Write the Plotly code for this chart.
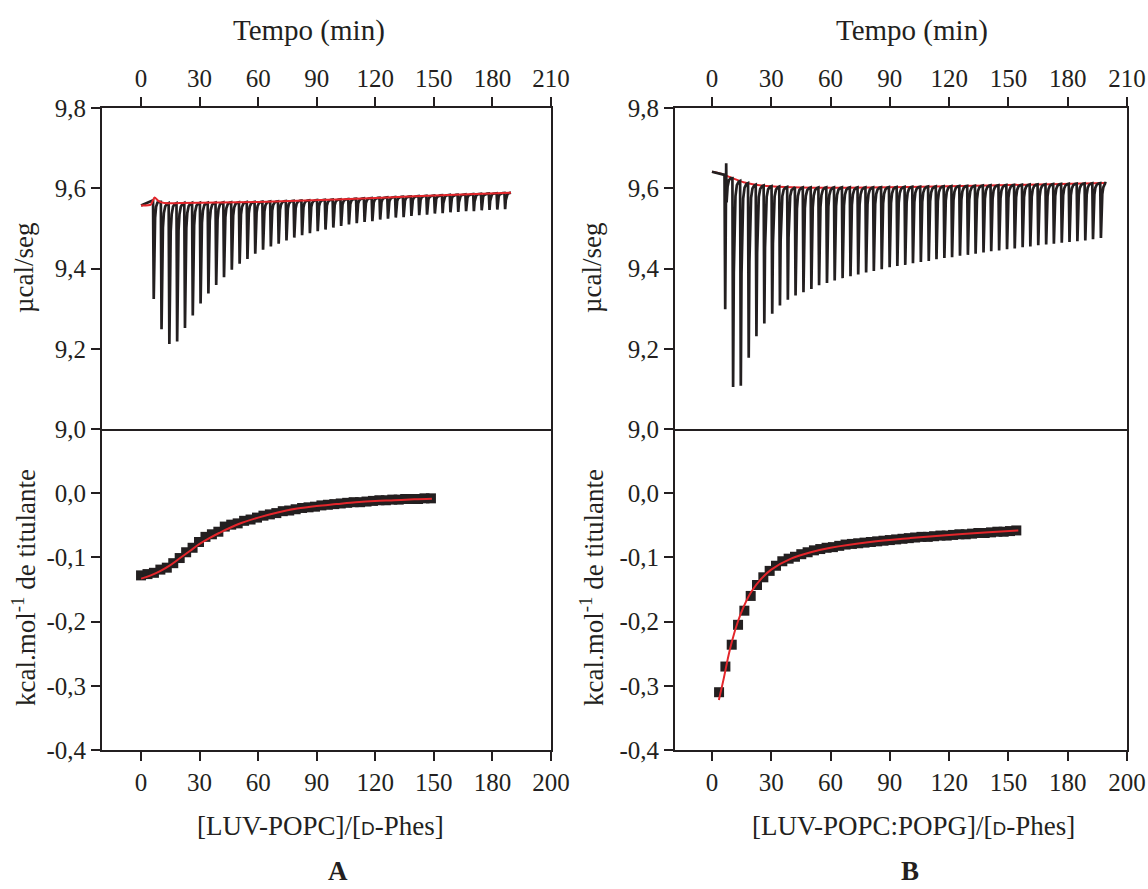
import numpy as np
import plotly.graph_objects as go

# ---------------- DATA ----------------
# Panel A - raw thermogram (Tempo, min)
inj_time_A = [6.3, 10.3, 14.3, 18.3, 22.3, 26.3, 30.3, 34.3, 38.3, 42.3, 46.3, 50.3,
              54.3, 58.3, 62.3, 66.3, 70.3, 74.3, 78.3, 82.3, 86.3, 90.3, 94.3, 98.3,
              102.3, 106.3, 110.3, 114.3, 118.3, 122.3, 126.3, 130.3, 134.3, 138.3,
              142.3, 146.3, 150.3, 154.3, 158.3, 162.3, 166.3, 170.3, 174.3, 178.3,
              182.3, 186.3]
peak_min_A = [9.322, 9.249, 9.212, 9.218, 9.252, 9.283, 9.313, 9.338, 9.359, 9.378,
              9.397, 9.412, 9.424, 9.437, 9.447, 9.455, 9.462, 9.470, 9.477, 9.483,
              9.488, 9.493, 9.497, 9.502, 9.506, 9.510, 9.513, 9.516, 9.518, 9.522,
              9.524, 9.527, 9.528, 9.531, 9.533, 9.534, 9.537, 9.538, 9.540, 9.541,
              9.543, 9.543, 9.545, 9.546, 9.547, 9.548]
base_t_A = [0, 5.0, 6.9, 9.0, 12.0, 20, 60, 100, 140, 189.5]
base_v_A = [9.557, 9.559, 9.577, 9.568, 9.563, 9.563, 9.566, 9.572, 9.580, 9.589]

# Panel B - raw thermogram
inj_time_B = [6.5, 10.5, 14.4, 18.4, 22.3, 26.3, 30.3, 34.2, 38.2, 42.1, 46.1, 50.1,
              54.0, 58.0, 61.9, 65.9, 69.9, 73.8, 77.8, 81.7, 85.7, 89.7, 93.6, 97.6,
              101.5, 105.5, 109.5, 113.4, 117.4, 121.3, 125.3, 129.3, 133.2, 137.2,
              141.1, 145.1, 149.1, 153.0, 157.0, 160.9, 164.9, 168.9, 172.8, 176.8,
              180.7, 184.7, 188.7, 192.6, 196.6]
peak_min_B = [9.299, 9.105, 9.108, 9.178, 9.231, 9.263, 9.287, 9.308, 9.322, 9.333,
              9.341, 9.349, 9.358, 9.364, 9.370, 9.376, 9.381, 9.385, 9.390, 9.394,
              9.398, 9.403, 9.406, 9.409, 9.413, 9.416, 9.419, 9.423, 9.426, 9.428,
              9.432, 9.434, 9.437, 9.440, 9.443, 9.445, 9.448, 9.450, 9.453, 9.455,
              9.458, 9.460, 9.462, 9.464, 9.466, 9.468, 9.470, 9.473, 9.476]
base_t_B = [0, 4, 6, 9, 12, 16, 22, 30, 45, 80, 120, 160, 199]
base_v_B = [9.641, 9.637, 9.634, 9.628, 9.622, 9.615, 9.609, 9.605, 9.602, 9.602,
            9.605, 9.609, 9.613]
spike_B_time = 7.2
spike_B_value = 9.662

# Panel A - integrated heats ([LUV-POPC]/[D-Phes])
ratio_A = [0.0, 3.3, 6.6, 9.9, 13.2, 16.5, 19.8, 23.1, 26.4, 29.7, 33.0, 36.3, 39.6,
           42.9, 46.2, 49.5, 52.8, 56.1, 59.4, 62.7, 66.0, 69.3, 72.6, 75.9, 79.2,
           82.5, 85.8, 89.1, 92.4, 95.7, 99.0, 102.3, 105.6, 108.9, 112.2, 115.5,
           118.8, 122.1, 125.4, 128.7, 132.0, 135.3, 138.6, 141.9, 145.2, 148.5]
heat_A = [-0.128, -0.126, -0.124, -0.119, -0.116, -0.109, -0.101, -0.092, -0.085,
          -0.076, -0.068, -0.064, -0.060, -0.052, -0.049, -0.047, -0.043, -0.041,
          -0.038, -0.035, -0.033, -0.031, -0.028, -0.027, -0.025, -0.023, -0.022,
          -0.021, -0.019, -0.018, -0.017, -0.016, -0.015, -0.014, -0.014, -0.013,
          -0.012, -0.011, -0.011, -0.010, -0.010, -0.009, -0.009, -0.009, -0.008,
          -0.008]
fit_x_A = [0, 5, 10, 15, 20, 25, 30, 35, 40, 50, 60, 70, 80, 90, 100, 110, 120, 130,
           140, 149]
fit_y_A = [-0.133, -0.128, -0.121, -0.112, -0.101, -0.090, -0.079, -0.070, -0.062,
           -0.048, -0.038, -0.030, -0.024, -0.020, -0.017, -0.014, -0.012, -0.011,
           -0.0095, -0.0085]

# Panel B - integrated heats ([LUV-POPC:POPG]/[D-Phes])
ratio_B = [3.6, 6.8, 10.0, 13.2, 16.4, 19.6, 22.8, 26.0, 29.2, 32.4, 35.6, 38.8, 42.0,
           45.2, 48.4, 51.6, 54.8, 58.0, 61.2, 64.4, 67.6, 70.8, 74.0, 77.2, 80.4,
           83.6, 86.8, 90.0, 93.2, 96.4, 99.6, 102.8, 106.0, 109.2, 112.4, 115.6,
           118.8, 122.0, 125.2, 128.4, 131.6, 134.8, 138.0, 141.2, 144.4, 147.6,
           150.8, 154.0]
heat_B = [-0.310, -0.270, -0.236, -0.205, -0.183, -0.160, -0.143, -0.131, -0.121,
          -0.113, -0.106, -0.102, -0.099, -0.095, -0.092, -0.089, -0.087, -0.085,
          -0.084, -0.082, -0.080, -0.079, -0.078, -0.077, -0.076, -0.075, -0.074,
          -0.073, -0.072, -0.071, -0.070, -0.069, -0.068, -0.068, -0.067, -0.066,
          -0.066, -0.065, -0.064, -0.064, -0.063, -0.062, -0.062, -0.061, -0.060,
          -0.060, -0.059, -0.058]
fit_x_B = [3.5, 6, 8, 10, 13, 16, 20, 25, 30, 40, 50, 60, 80, 100, 120, 140, 155]
fit_y_B = [-0.322, -0.288, -0.258, -0.232, -0.201, -0.177, -0.153, -0.133, -0.119,
           -0.102, -0.092, -0.085, -0.076, -0.070, -0.065, -0.061, -0.058]

time_ticks = [0, 30, 60, 90, 120, 150, 180, 210]
ratio_tickvals = [0, 30, 60, 90, 120, 150, 180, 210]
ratio_ticktext = ["0", "30", "60", "90", "120", "150", "180", "200"]
raw_ticks = [9.0, 9.2, 9.4, 9.6, 9.8]
raw_ticktext = ["9,0", "9,2", "9,4", "9,6", "9,8"]
heat_ticks = [-0.4, -0.3, -0.2, -0.1, 0.0]
heat_ticktext = ["-0,4", "-0,3", "-0,2", "-0,1", "0,0"]

# ---------------- HELPERS ----------------
W, H = 1148, 889
INK = "#231f20"
RED = "#e3262b"
FONT = "Liberation Serif"


def px(x):
    return x / W


def py(y):
    return 1 - y / H


def thermogram(times, minima, bt, bv, t_end, spike=None):
    shape = [(-0.15, 0.0), (0.2, 1.0), (0.55, 0.45), (0.9, 0.2), (1.4, 0.08),
             (2.1, 0.025), (3.0, 0.006)]
    xs, ys = [bt[0]], [bv[0]]
    for t, m in zip(times, minima):
        d = np.interp(t, bt, bv) - m
        for dt, f in shape:
            tt = t + dt
            xs.append(tt)
            ys.append(float(np.interp(tt, bt, bv)) - f * d)
    xs.append(t_end)
    ys.append(float(np.interp(t_end, bt, bv)))
    if spike is not None:
        xs.append(spike[0])
        ys.append(spike[1])
        order = np.argsort(xs, kind="stable")
        xs = [xs[i] for i in order]
        ys = [ys[i] for i in order]
    return xs, ys


fig = go.Figure()

# Panel A top
xa, ya = thermogram(inj_time_A, peak_min_A, base_t_A, base_v_A, 189.5)
fig.add_trace(go.Scatter(x=xa, y=ya, mode="lines", line=dict(color=INK, width=2.7),
                         xaxis="x", yaxis="y", hoverinfo="skip"))
fig.add_trace(go.Scatter(x=base_t_A, y=base_v_A, mode="lines",
                         line=dict(color=RED, width=2, shape="spline", smoothing=0.6),
                         xaxis="x", yaxis="y"))
# Panel A bottom
fig.add_trace(go.Scatter(x=ratio_A, y=heat_A, mode="markers",
                         marker=dict(symbol="square", size=10, color=INK),
                         xaxis="x2", yaxis="y2"))
fig.add_trace(go.Scatter(x=fit_x_A, y=fit_y_A, mode="lines",
                         line=dict(color=RED, width=2, shape="spline"),
                         xaxis="x2", yaxis="y2"))
# Panel B top
xb, yb = thermogram(inj_time_B, peak_min_B, base_t_B, base_v_B, 199,
                    spike=(spike_B_time, spike_B_value))
fig.add_trace(go.Scatter(x=base_t_B, y=base_v_B, mode="lines",
                         line=dict(color=RED, width=2, shape="spline", smoothing=0.6),
                         xaxis="x3", yaxis="y3"))
fig.add_trace(go.Scatter(x=xb, y=yb, mode="lines", line=dict(color=INK, width=2.7),
                         xaxis="x3", yaxis="y3", hoverinfo="skip"))
# Panel B bottom
fig.add_trace(go.Scatter(x=ratio_B, y=heat_B, mode="markers",
                         marker=dict(symbol="square", size=10, color=INK),
                         xaxis="x4", yaxis="y4"))
fig.add_trace(go.Scatter(x=fit_x_B, y=fit_y_B, mode="lines",
                         line=dict(color=RED, width=2, shape="spline"),
                         xaxis="x4", yaxis="y4"))

tickfont = dict(family=FONT, size=25, color=INK)


def axis(**kw):
    d = dict(showline=True, linecolor=INK, linewidth=2, mirror=True, ticks="outside",
             ticklen=9, tickwidth=2, tickcolor=INK, showgrid=False, zeroline=False,
             tickfont=tickfont, fixedrange=True, automargin=False)
    d.update(kw)
    return d


domA = [px(102), px(551)]
domB = [px(675), px(1127)]
domTop = [py(429), py(108)]
domBot = [py(750), py(429)]

fig.update_layout(
    width=W, height=H,
    margin=dict(l=0, r=0, t=0, b=0, pad=0, autoexpand=False),
    paper_bgcolor="white", plot_bgcolor="white", showlegend=False,
    xaxis=axis(domain=domA, anchor="y", side="top", range=[-20, 210],
               tickvals=time_ticks),
    yaxis=axis(domain=domTop, anchor="x", range=[9.0, 9.8], tickvals=raw_ticks,
               ticktext=raw_ticktext),
    xaxis2=axis(domain=domA, anchor="y2", side="bottom", range=[-20, 210],
                tickvals=ratio_tickvals, ticktext=ratio_ticktext, mirror=False),
    yaxis2=axis(domain=domBot, anchor="x2", range=[-0.4, 0.1], tickvals=heat_ticks,
                ticktext=heat_ticktext),
    xaxis3=axis(domain=domB, anchor="y3", side="top", range=[-18.7, 210],
                tickvals=time_ticks),
    yaxis3=axis(domain=domTop, anchor="x3", range=[9.0, 9.8], tickvals=raw_ticks,
                ticktext=raw_ticktext),
    xaxis4=axis(domain=domB, anchor="y4", side="bottom", range=[-18.7, 210],
                tickvals=ratio_tickvals, ticktext=ratio_ticktext, mirror=False),
    yaxis4=axis(domain=domBot, anchor="x4", range=[-0.4, 0.1], tickvals=heat_ticks,
                ticktext=heat_ticktext),
)

tf = dict(family=FONT, size=27, color=INK)


def ann(text, x, y, angle=0, font=tf, yanchor="middle"):
    fig.add_annotation(text=text, x=px(x), y=py(y), xref="paper", yref="paper",
                       showarrow=False, textangle=angle, font=font,
                       xanchor="center", yanchor=yanchor)


ttl = dict(family=FONT, size=29, color=INK)
ann("Tempo (min)", 309, 31, font=ttl)
ann("Tempo (min)", 912, 31, font=ttl)
ann("µcal/seg", 24, 268, -90)
ann("µcal/seg", 592, 268, -90)
ann("kcal.mol<sup>-1</sup> de titulante", 24, 588, -90)
ann("kcal.mol<sup>-1</sup> de titulante", 592, 588, -90)
dsc = '<span style="font-family:Liberation Sans;font-size:19px">D</span>'
ann("[LUV-POPC]/[" + dsc + "-Phes]", 320, 826)
ann("[LUV-POPC:POPG]/[" + dsc + "-Phes]", 913, 826)
bold = dict(family=FONT, size=27, color=INK)
ann("<b>A</b>", 338, 888, font=bold, yanchor="bottom")
ann("<b>B</b>", 910, 888, font=bold, yanchor="bottom")

fig.write_html("out.html")
